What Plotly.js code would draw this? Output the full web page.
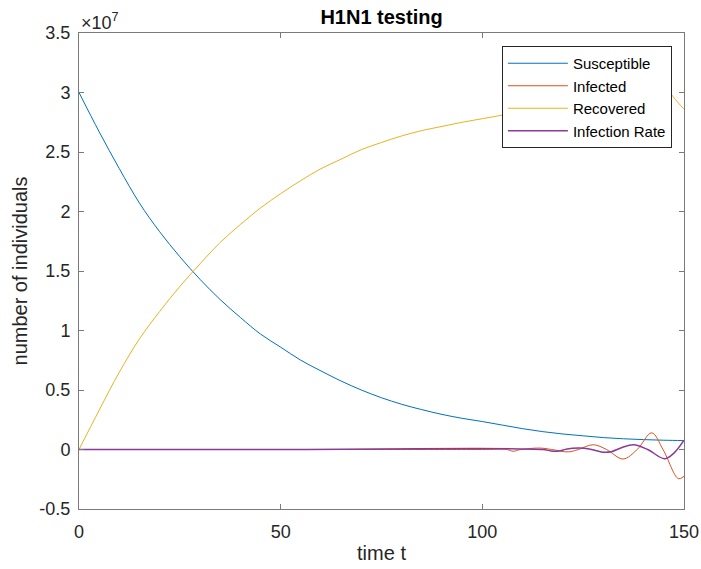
<!DOCTYPE html>
<html>
<head>
<meta charset="utf-8">
<script src="https://cdn.plot.ly/plotly-3.0.1.min.js"></script>
<style>html,body{margin:0;padding:0;background:#fff;}#chart{width:701px;height:569px;}</style>
</head>
<body>
<div id="chart"></div>
<script>
// time grid for the smooth curves
var tSmooth = [0,5,10,15,20,25,30,35,40,45,50,55,60,65,70,75,80,85,90,95,100,105,110,115,120,125,130,135,140,145,150];
var susceptible = [3.0e7,2.67e7,2.36e7,2.07e7,1.83e7,1.62e7,1.43e7,1.26e7,1.11e7,0.97e7,0.86e7,0.75e7,0.66e7,0.575e7,0.50e7,0.435e7,0.38e7,0.335e7,0.295e7,0.262e7,0.235e7,0.205e7,0.175e7,0.15e7,0.13e7,0.115e7,0.10e7,0.09e7,0.083e7,0.078e7,0.075e7];

var tRecovered = [0,5,10,15,20,25,30,35,40,45,50,55,60,65,70,75,80,85,90,95,100,105,110,115,120,125,130,135,140,143,145,146.5,148,150];
var recovered = [0,0.33e7,0.65e7,0.93e7,1.16e7,1.37e7,1.56e7,1.74e7,1.89e7,2.03e7,2.15e7,2.26e7,2.36e7,2.44e7,2.52e7,2.58e7,2.635e7,2.68e7,2.715e7,2.75e7,2.78e7,2.81e7,2.84e7,2.86e7,2.88e7,2.90e7,2.92e7,2.94e7,2.97e7,3.01e7,3.02e7,2.995e7,2.935e7,2.86e7];

var tInfected = [0,50,100,106,107.7,109.2,114.3,117.2,121.3,123.8,127.5,130.8,134.9,138.4,142.0,144.8,148.6,150];
var infected = [0,0,0,0,-0.015e7,-0.002e7,0.012e7,0,-0.02e7,0,0.04e7,0,-0.08e7,0,0.14e7,0,-0.245e7,-0.226e7];

var tRate = [0,50,115,117,119,121,124,126.5,129.5,132,134.5,137.5,141,145.2,147.5,150];
var infectionRate = [0,0,0,-0.012e7,-0.012e7,0.005e7,0.012e7,0.005e7,-0.02e7,-0.018e7,0.015e7,0.04e7,0,-0.078e7,-0.03e7,0.078e7];

var yTickVals = [-0.5e7,0,0.5e7,1e7,1.5e7,2e7,2.5e7,3e7,3.5e7];
var yTickText = ["-0.5","0","0.5","1","1.5","2","2.5","3","3.5"];
var xTickVals = [0,50,100,150];

var FONT = "Liberation Sans, Arial, Helvetica, sans-serif";
var traces = [
  {x:tSmooth, y:susceptible, name:"Susceptible", mode:"lines", line:{color:"#0072BD", width:1, shape:"spline", smoothing:1}},
  {x:tInfected, y:infected, name:"Infected", mode:"lines", line:{color:"#D95319", width:1, shape:"spline"}},
  {x:tRecovered, y:recovered, name:"Recovered", mode:"lines", line:{color:"#EDB120", width:1, shape:"spline", smoothing:1}},
  {x:tRate, y:infectionRate, name:"Infection Rate", mode:"lines", line:{color:"#8a3a9a", width:1.5, shape:"spline"}}
];
var axisCommon = {
  showgrid:false, zeroline:false, showline:true, mirror:"ticks",
  linecolor:"#7a7a7a", linewidth:1, ticks:"inside", ticklen:5, tickcolor:"#7a7a7a",
  tickfont:{family:FONT, size:18, color:"#262626"}
};
var layout = {
  width:701, height:569,
  margin:{l:79, r:17, t:33, b:60},
  paper_bgcolor:"#ffffff", plot_bgcolor:"#ffffff",
  font:{family:FONT, color:"#262626"},
  showlegend:true,
  title:{text:"<b>H1N1 testing</b>", font:{family:FONT, size:20, color:"#000"}, x:0.5, xref:"paper", xanchor:"center", y:1, yref:"paper", yanchor:"bottom", pad:{b:9}},
  xaxis: Object.assign({}, axisCommon, {range:[0,150], tickvals:xTickVals, ticklabelstandoff:6,
    title:{text:"time t", font:{family:FONT, size:20, color:"#262626"}, standoff:5}}),
  yaxis: Object.assign({}, axisCommon, {range:[-0.5e7,3.5e7], tickvals:yTickVals, ticktext:yTickText, ticklabelstandoff:4,
    title:{text:"number of individuals", font:{family:FONT, size:20, color:"#262626"}, standoff:6}}),
  legend:{x:0.98, xanchor:"right", y:0.9727, yanchor:"top", bgcolor:"#ffffff", bordercolor:"#262626", borderwidth:1,
    font:{family:FONT, size:15, color:"#000"}, itemwidth:60, tracegroupgap:0},
  annotations:[{text:"×10<sup>7</sup>", xref:"paper", yref:"paper", x:0, y:1, xanchor:"left", yanchor:"bottom", showarrow:false, yshift:-2,
    font:{family:FONT, size:18, color:"#262626"}}]
};
Plotly.newPlot("chart", traces, layout, {displayModeBar:false, staticPlot:true});
</script>
</body>
</html>
